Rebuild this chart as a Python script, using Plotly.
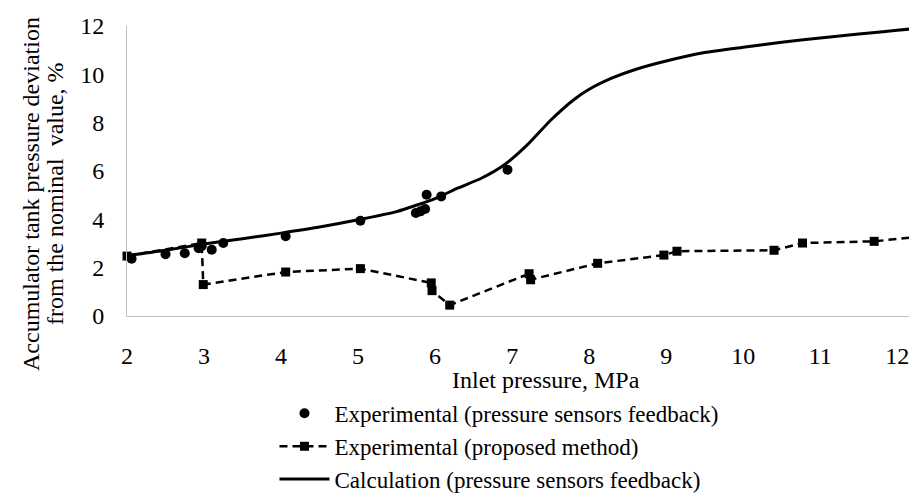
import plotly.graph_objects as go

# Experimental (pressure sensors feedback)
exp_sensor_x = [2.06, 2.5, 2.75, 2.93, 2.97, 3.1, 3.25, 4.06, 5.03, 5.75, 5.81, 5.87, 5.89, 6.08, 6.94]
exp_sensor_y = [2.37, 2.56, 2.6, 2.8, 2.9, 2.74, 3.02, 3.3, 3.94, 4.26, 4.33, 4.43, 5.02, 4.95, 6.05]

# Experimental (proposed method)
exp_method_x = [2.0, 2.97, 2.99, 4.06, 5.03, 5.95, 5.96, 6.19, 7.22, 7.24, 8.11, 8.97, 9.14, 10.4, 10.77, 11.7, 12.22]
exp_method_y = [2.48, 3.02, 1.3, 1.82, 1.96, 1.37, 1.05, 0.45, 1.75, 1.5, 2.18, 2.52, 2.68, 2.72, 3.02, 3.09, 3.26]

# Calculation (pressure sensors feedback)
calc_x = [2.0, 2.5, 3.0, 3.5, 4.0, 4.5, 5.0, 5.5, 6.0, 6.3, 6.6, 6.9, 7.2, 7.5, 7.8, 8.0, 8.3, 8.6, 9.0, 9.5, 10.0, 10.5, 11.0, 11.5, 12.0, 12.36]
calc_y = [2.5, 2.72, 2.98, 3.2, 3.43, 3.68, 3.98, 4.32, 4.86, 5.3, 5.7, 6.26, 7.09, 8.1, 8.95, 9.38, 9.85, 10.2, 10.55, 10.9, 11.12, 11.33, 11.5, 11.67, 11.82, 11.94]

x_ticks = [2, 3, 4, 5, 6, 7, 8, 9, 10, 11, 12]
y_ticks = [0, 2, 4, 6, 8, 10, 12]

x_title = "Inlet pressure, MPa"
y_title_lines = ["Accumulator tank pressure deviation", "from the nominal  value, %"]

FONT = "Liberation Serif, Times New Roman, serif"
FS = 24

fig = go.Figure()
fig.add_trace(go.Scatter(
    x=exp_sensor_x, y=exp_sensor_y, mode="markers",
    name="Experimental (pressure sensors feedback)",
    marker=dict(symbol="circle", size=10, color="black"),
    cliponaxis=False,
))
fig.add_trace(go.Scatter(
    x=exp_method_x, y=exp_method_y, mode="lines+markers",
    name="Experimental (proposed method)",
    line=dict(color="black", width=2.5, dash="8px,5px"),
    marker=dict(symbol="square", size=9, color="black"),
    cliponaxis=False,
))
fig.add_trace(go.Scatter(
    x=calc_x, y=calc_y, mode="lines",
    name="Calculation (pressure sensors feedback)",
    line=dict(color="black", width=3, shape="spline", smoothing=0.6),
    cliponaxis=False,
))

annotations = [
    dict(text=x_title, xref="paper", yref="paper",
         x=(538 - 119) / 798, y=(308 - 372) / 290, showarrow=False,
         xanchor="center", yanchor="middle",
         font=dict(family=FONT, size=FS, color="black")),
]
for line_text, px in zip(y_title_lines, [23, 47]):
    annotations.append(dict(
        text=line_text, xref="paper", yref="paper",
        x=(px - 119) / 798, y=(308 - 186) / 290, showarrow=False,
        xanchor="center", yanchor="middle", textangle=-90,
        font=dict(family=FONT, size=FS, color="black")))

fig.update_layout(
    width=917, height=494,
    margin=dict(l=119, r=0, t=18, b=186, autoexpand=False),
    paper_bgcolor="white", plot_bgcolor="white",
    font=dict(family=FONT, size=FS, color="black"),
    showlegend=True,
    legend=dict(
        xref="container", yref="container",
        x=0.2906, y=0.223, xanchor="left", yanchor="top",
        font=dict(family=FONT, size=23, color="black"),
        itemwidth=50, bgcolor="rgba(0,0,0,0)", tracegroupgap=0,
    ),
    xaxis=dict(
        range=[2, 12.36], tickvals=x_ticks, showgrid=False, zeroline=False,
        showline=True, linecolor="#BFBFBF", linewidth=1, ticks="",
        tickangle=0, automargin=False,
        ticklabelstandoff=18, tickfont=dict(family=FONT, size=FS, color="black"),
    ),
    yaxis=dict(
        range=[0, 12], tickvals=y_ticks, showgrid=False, zeroline=False,
        showline=True, linecolor="#BFBFBF", linewidth=1, ticks="",
        automargin=False,
        ticklabelstandoff=17, tickfont=dict(family=FONT, size=FS, color="black"),
    ),
    annotations=annotations,
)

fig.write_html("out.html")
